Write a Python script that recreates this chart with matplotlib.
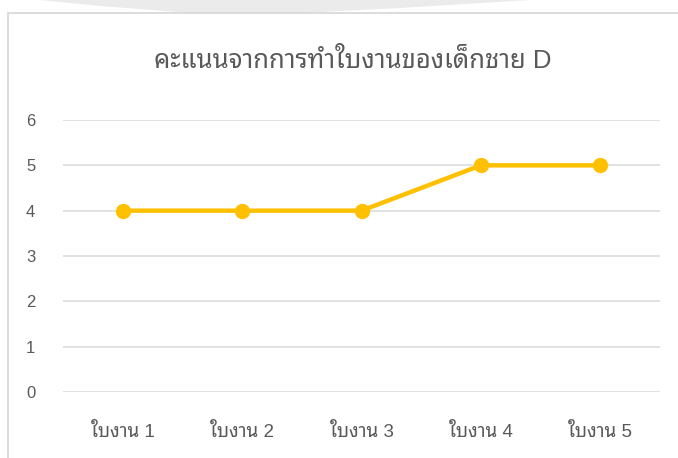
import matplotlib
matplotlib.use("Agg")
import matplotlib.pyplot as plt
from matplotlib.patches import Polygon, Rectangle

plt.rcParams['font.family'] = ['Liberation Sans', 'Noto Sans Thai Looped', 'DejaVu Sans']

# data
sheets = ["ใบงาน 1", "ใบงาน 2", "ใบงาน 3", "ใบงาน 4", "ใบงาน 5"]
scores = [4, 4, 4, 5, 5]
yticks = [0, 1, 2, 3, 4, 5, 6]
title = "คะแนนจากการทำใบงานของเด็กชาย D"

W, H = 678, 458
fig = plt.figure(figsize=(W / 100, H / 100), dpi=100)

# faded shape at the very top and the chart border
fig.patches.append(Polygon([(40 / W, 1), (530 / W, 1), (400 / W, 1 - 8 / H),
                            (300 / W, 1 - 13 / H), (190 / W, 1 - 13 / H), (100 / W, 1 - 6 / H)],
                           closed=True, transform=fig.transFigure, facecolor="#EBEBEB",
                           edgecolor="none", zorder=0))
fig.patches.append(Rectangle((8 / W, -0.1), 1.2, 1 - 13 / H + 0.1, transform=fig.transFigure,
                             facecolor="white", edgecolor="#D9D9D9", linewidth=1.3, zorder=1))

ax = fig.add_axes([63 / W, 1 - 392 / H, 597 / W, 272 / H])
ax.set_zorder(2)
ax.set_facecolor("none")
x = list(range(len(sheets)))
ax.plot(x, scores, color="#FFC000", linewidth=3.2, marker="o", markersize=10,
        solid_capstyle="round", zorder=3, clip_on=False)

ax.set_xlim(-0.5, len(sheets) - 0.5)
ax.set_ylim(0, 6)
ax.set_yticks(yticks)
ax.set_xticks(x)
ax.set_xticklabels(sheets)
ax.grid(axis="y", color="#D9D9D9", linewidth=1.1)
ax.set_axisbelow(True)
for s in ax.spines.values():
    s.set_visible(False)
ax.tick_params(axis="both", length=0, labelsize=12, colors="#595959")
ax.tick_params(axis="y", pad=20)
ax.tick_params(axis="x", pad=22, labelsize=13.5)

fig.text(353 / W, 1 - 60 / H, title, ha="center", va="center", fontsize=18.5, color="#595959")

fig.savefig("out.png", dpi=100)
